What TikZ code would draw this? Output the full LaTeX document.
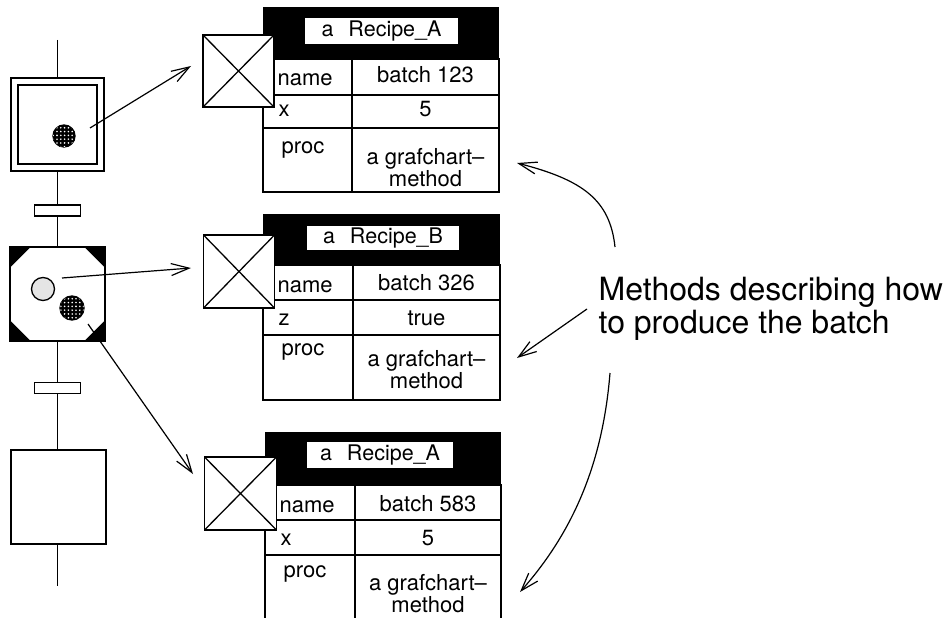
\documentclass[tikz,border=0pt]{standalone}
\usepackage{fontspec}
\setmainfont{TeX Gyre Heros}
\usetikzlibrary{arrows.meta,patterns.meta,calc}
\begin{document}
\begin{tikzpicture}[x=1pt,y=-1pt, line width=1.3pt,
  arr/.style={-{Straight Barb[length=18pt,width=12pt,line width=1.2pt]}, line width=1.2pt},
  tbl/.style={font=\fontsize{22}{19}\selectfont, inner sep=0pt},
  meth/.style={tbl, align=center, anchor=north},
  lbl/.style={fill=white, inner sep=0pt, font=\fontsize{21.5}{20}\selectfont},
  big/.style={font=\fontsize{32}{33}\selectfont, inner sep=0pt},
  crossbox/.style={draw, fill=white, minimum width=71pt, minimum height=72pt, inner sep=0pt,
    path picture={\draw (path picture bounding box.north west) -- (path picture bounding box.south east)
      (path picture bounding box.north east) -- (path picture bounding box.south west);}},
  tok/.style={circle, draw, fill=black, minimum size=22pt, inner sep=0pt,
    postaction={pattern={Dots[radius=0.9pt,distance=3.8pt]}, pattern color=white}},
  tokl/.style={circle, draw, fill=black!10, minimum size=23pt, inner sep=0pt},
  stepbox/.style={draw, fill=white, minimum width=93pt, minimum height=93pt, inner sep=0pt},
  trans/.style={draw, fill=white, minimum width=46pt, minimum height=11pt, inner sep=0pt},
]
\useasboundingbox (0,0) rectangle (951,618);

% ---------- Grafchart column ----------
\coordinate (top) at (57.5,40);
\coordinate (bot) at (57.5,586);
\node[stepbox] (s1) at (57.5,124.5) {};
\node[draw, minimum width=79pt, minimum height=79pt, inner sep=0pt] (s1i) at (57.5,124.5) {};
\node[trans] (t1) at (57.5,210.5) {};
\node[stepbox, minimum width=95pt, minimum height=94pt] (s2) at (57.5,294) {};
\node[trans] (t2) at (57.5,388) {};
\node[stepbox, minimum width=95pt, minimum height=94pt] (s3) at (58.5,497) {};

\draw (top) -- (s1);
\draw (s1) -- (t1);
\draw (t1) -- (s2);
\draw (s2) -- (t2);
\draw (t2) -- (s3.north -| t2);
\draw (s3.south -| t2) -- (bot);

% black corners of step 2
\fill (s2.north west) -- ++(22,0) -- ++(-22,22) -- cycle;
\fill (s2.north east) -- ++(-22,0) -- ++(22,22) -- cycle;
\fill (s2.south west) -- ++(22,0) -- ++(-22,-22) -- cycle;
\fill (s2.south east) -- ++(-22,0) -- ++(22,-22) -- cycle;

% tokens
\node[tok] (k1) at (64,136) {};
\node[tokl] (k2) at (43,289) {};
\node[tok, minimum size=24pt] (k3) at (72,308) {};

% ---------- Object 1 ----------
\fill (263,7) rectangle (499,59);
\node[lbl, minimum width=153pt, minimum height=26pt] (h1) at (381.5,31) {a\hspace{0.7em}Recipe\_A};
\draw (263,59) rectangle (499,192);
\draw (263,95) -- (499,95) (263,128) -- (499,128) (352,59) -- (352,192);
\node[crossbox] (cb1) at (238.5,71) {};
\node[tbl, anchor=base west] at (277,85) {name};
\node[tbl, anchor=base] at (425.5,83) {batch 123};
\node[tbl, anchor=base west] at (278,117) {x};
\node[tbl, anchor=base] at (425.5,117) {5};
\node[tbl, anchor=base west] at (281,153) {proc};
\node[meth] (m1) at (425.5,148) {a grafchart--\\method};

% ---------- Object 2 ----------
\fill (263,214) rectangle (500,265);
\node[lbl, minimum width=152pt, minimum height=24pt] (h2) at (383,238) {a\hspace{0.7em}Recipe\_B};
\draw (263,265) rectangle (500,400);
\draw (263,300) -- (500,300) (263,335) -- (500,335) (353,265) -- (353,400);
\node[crossbox, minimum height=73pt] (cb2) at (239,271.5) {};
\node[tbl, anchor=base west] at (277,292) {name};
\node[tbl, anchor=base] at (426.5,290) {batch 326};
\node[tbl, anchor=base west] at (278,325) {z};
\node[tbl, anchor=base] at (426.5,325) {true};
\node[tbl, anchor=base west] at (281,355) {proc};
\node[meth] (m2) at (426.5,350) {a grafchart--\\method};

% ---------- Object 3 ----------
\fill (265,432) rectangle (501,485);
\node[lbl, minimum width=146pt, minimum height=26pt] (h3) at (380,455) {a\hspace{0.7em}Recipe\_A};
\draw (265,618) -- (265,485) -- (501,485) -- (501,618);
\draw (265,520) -- (501,520) (265,555) -- (501,555) (355,485) -- (355,618);
\node[crossbox, minimum width=72pt, minimum height=73pt] (cb3) at (240.5,493.5) {};
\node[tbl, anchor=base west] at (279,512) {name};
\node[tbl, anchor=base] at (428,511) {batch 583};
\node[tbl, anchor=base west] at (280,545) {x};
\node[tbl, anchor=base] at (428,545) {5};
\node[tbl, anchor=base west] at (283,577) {proc};
\node[meth] (m3) at (428,574) {a grafchart--\\method};

% ---------- arrows from the steps ----------
\coordinate (a1s) at (90,128);  \coordinate (a1e) at (191,66);
\coordinate (a2s) at (62,278);  \coordinate (a2e) at (191,268);
\coordinate (a3s) at (88,324);  \coordinate (a3e) at (193,474);
\draw[arr] (a1s) -- (a1e);
\draw[arr] (a2s) -- (a2e);
\draw[arr] (a3s) -- (a3e);

% ---------- annotation ----------
\node[big, anchor=base west] (txt1) at (598,300) {Methods describing how};
\node[big, anchor=base west] (txt2) at (598,333) {to produce the batch};

\coordinate (c1s) at (615,247); \coordinate (c1e) at (517,163);
\coordinate (c2s) at (587,309); \coordinate (c2e) at (517,358);
\coordinate (c3s) at (610,373); \coordinate (c3e) at (520,592);
\draw[arr] (c1s) .. controls (610,200) and (583,180) .. (c1e);
\draw[arr] (c2s) -- (c2e);
\draw[arr] (c3s) .. controls (603,460) and (575,530) .. (c3e);
\end{tikzpicture}
\end{document}
